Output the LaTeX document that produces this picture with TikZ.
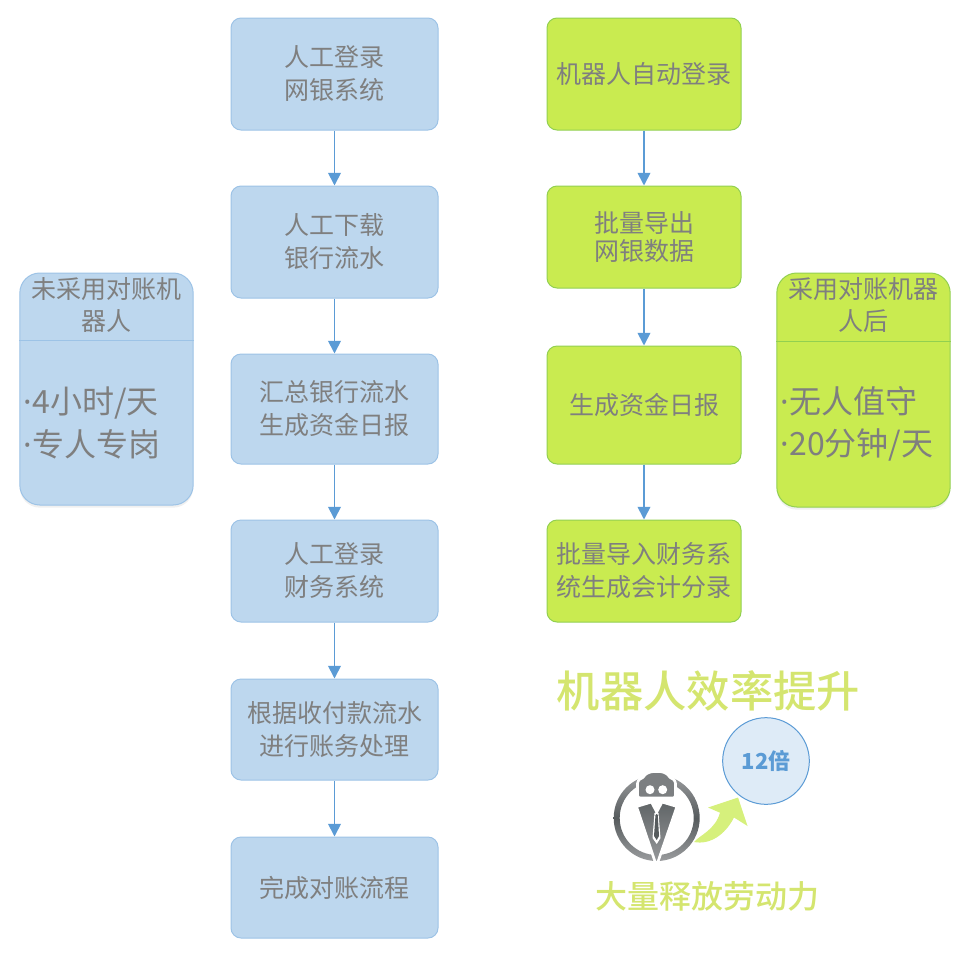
\documentclass[tikz,border=0pt]{standalone}
\usepackage{fontspec}
\setmainfont{Noto Sans CJK SC}
\newfontfamily\dotfont{Noto Sans}
\newfontfamily\midfont{Noto Sans CJK SC Medium}
\usetikzlibrary{arrows.meta, positioning, shadows, calc}
\definecolor{boxblue}{HTML}{BDD7EE}
\definecolor{lineblue}{HTML}{9DC3E6}
\definecolor{arrowblue}{HTML}{5B9BD5}
\definecolor{boxgreen}{HTML}{C9EB50}
\definecolor{linegreen}{HTML}{92D050}
\definecolor{titlegreen}{HTML}{D4E56F}
\definecolor{textgray}{HTML}{7F7F7F}
\definecolor{iconlight}{HTML}{9A9C9E}
\definecolor{icondark}{HTML}{565B5D}
\definecolor{iconhead}{HTML}{7C7F81}
\newcommand{\dotmark}{{\dotfont ·}}
\tikzset{
    stepblue/.style={draw=lineblue, fill=boxblue, rounded corners=7.5pt, line width=0.75pt, minimum width=155.25pt, inner sep=0pt, align=center, text=textgray, font=\fontsize{18.75}{24.75}\selectfont},
    stepgreen/.style={stepblue, draw=linegreen, fill=boxgreen, minimum width=145.5pt},
    flow/.style={arrowblue, line width=1.3pt, -{Triangle[length=9.5pt, width=9.5pt]}},
    panelbox/.style={rounded corners=15pt, line width=0.75pt, minimum width=130pt, inner sep=0pt, drop shadow={opacity=0.12, shadow xshift=0pt, shadow yshift=-2pt}},
    paneltext/.style={align=center, text=textgray, font=\fontsize{18.75}{24}\selectfont, inner sep=0pt},
    panelbig/.style={align=left, anchor=west, text=textgray, font=\fontsize{24}{32}\selectfont, inner sep=0pt}
}
\begin{document}
\begin{tikzpicture}[x=0.75pt, y=-0.75pt]
    \useasboundingbox (0,0) rectangle (968,954);

    % Manual process (blue)
    \foreach \name/\cy/\hgt/\label in {
        hand1/74/84/{人工登录\\网银系统},
        hand2/242/84/{人工下载\\银行流水},
        hand3/409/82.5/{汇总银行流水\\生成资金日报},
        hand4/571/76.5/{人工登录\\财务系统},
        hand5/729.5/75.75/{根据收付款流水\\进行账务处理},
        hand6/887.5/75.75/{完成对账流程}} {
        \node[stepblue, minimum height=\hgt pt] (\name) at (334.5,\cy) {\label};
    }

    % Robot process (green)
    \foreach \name/\cy/\hgt/\label in {
        robot1/74/84/{机器人自动登录},
        robot2/237/76.5/{批量导出\\[-3.5pt]网银数据},
        robot3/405/88.5/{生成资金日报},
        robot4/571/76.5/{批量导入财务系\\统生成会计分录}} {
        \node[stepgreen, minimum height=\hgt pt] (\name) at (644,\cy) {\label};
    }

    % Connectors
    \foreach \a/\b in {hand1/hand2, hand2/hand3, hand3/hand4, hand4/hand5, hand5/hand6,
        robot1/robot2, robot2/robot3, robot3/robot4} {
        \draw[flow] (\a) -- (\b);
    }

    % Left panel
    \node[panelbox, draw=lineblue, fill=boxblue, minimum height=174pt] (before) at (106.5,389) {};
    \draw[lineblue, line width=0.75pt] (before.west |- 0,340) -- (before.east |- 0,340);
    \node[paneltext] (beforetitle) at (106.5,305) {未采用对账机\\器人};
    \node[panelbig] (beforetext) at (23.5,423) {\dotmark 4小时/天\\\dotmark 专人专岗};

    % Right panel
    \node[panelbox, draw=linegreen, fill=boxgreen, minimum height=175.5pt] (after) at (863.5,390) {};
    \draw[linegreen, line width=0.75pt] (after.west |- 0,341) -- (after.east |- 0,341);
    \node[paneltext] (aftertitle) at (863.5,305) {采用对账机器\\人后};
    \node[panelbig] (aftertext) at (780.5,424) {\dotmark 无人值守\\\dotmark 20分钟/天};

    % Efficiency labels
    \node[text=titlegreen, font=\fontsize{32.5}{36}\selectfont\midfont, inner sep=0pt] (gain) at (708.5,691) {机器人效率提升};
    \node[text=titlegreen, font=\fontsize{24}{28}\selectfont\midfont, inner sep=0pt] (release) at (707.5,896) {大量释放劳动力};
    \node[circle, draw=arrowblue, fill=arrowblue!20, line width=0.75pt, minimum size=65pt, inner sep=0pt, text=arrowblue, font=\fontsize{16.5}{20}\selectfont\bfseries] (times) at (766,761) {12倍};

    % Curved arrow
    \fill[boxgreen!75!white] (694,842) .. controls (700,835) and (715,830) .. (720,812.7)
        -- (708,807.5) -- (738,797.5) -- (747.5,826) -- (734,817.5)
        .. controls (725,835) and (710,845) .. (694,842) -- cycle;

    % Robot icon
    \shade[even odd rule, top color=iconlight, bottom color=iconlight, middle color=icondark] (656.7,818) circle (43) circle (37);
    \filldraw[fill=iconhead, draw=white, line width=2pt, rounded corners=2pt] (637.5,781) .. controls (640,779) .. (643,778)
        .. controls (646,773) and (651,771.5) .. (656.7,771.5) .. controls (662,771.5) and (667,773) .. (670,778)
        .. controls (673,779) .. (675.5,781) -- (675.5,798) -- (637.5,798) -- cycle;
    \fill[white] (650,789.7) circle (4.5) (662.7,789.7) circle (4.5);
    \shade[top color=icondark!85!iconlight, middle color=icondark, bottom color=iconlight, draw=white, line width=2pt] (636.5,806.5) -- (651.5,802) -- (656.7,812) -- (662,802) -- (677,806.5) -- (656.5,866) -- cycle;
    \fill[white] (656.7,812) -- (654.5,813) -- (652.5,838) -- (656.7,844) -- (660.5,838) -- (658.5,813) -- cycle;
    \fill[icondark] (656.7,814) -- (655.5,815) -- (654,836) -- (656.7,840) -- (659,836) -- (657.8,815) -- cycle;
\end{tikzpicture}
\end{document}
